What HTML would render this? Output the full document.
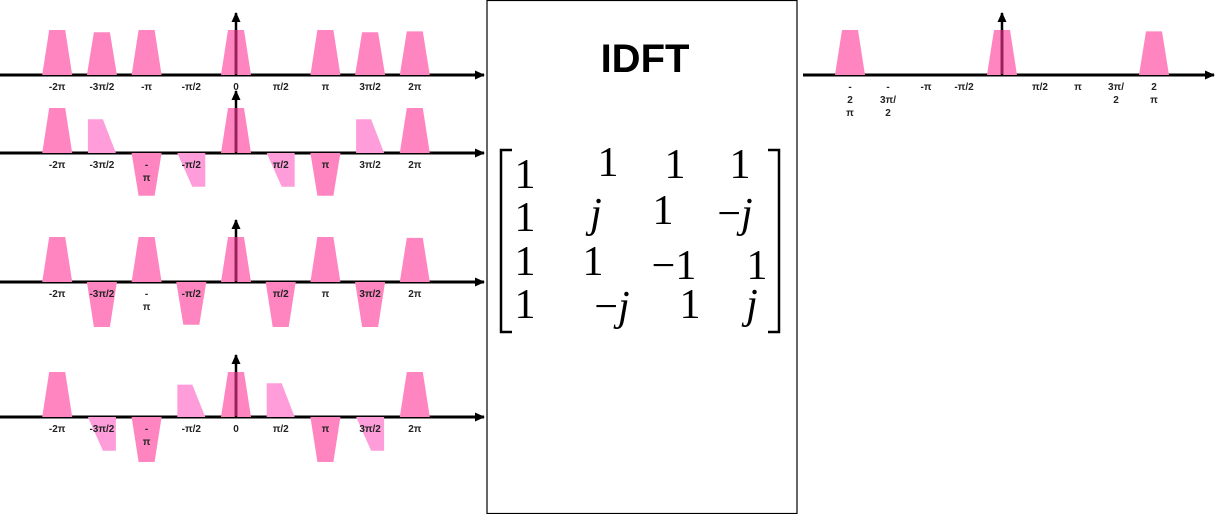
<!DOCTYPE html>
<html><head><meta charset="utf-8"><style>
body{margin:0;background:#fff;width:1224px;height:514px;overflow:hidden;font-family:"Liberation Sans",sans-serif}
svg{position:absolute;left:0;top:0}
</style></head><body>
<svg id="s" width="1224" height="514">
<defs><marker id="ah" markerUnits="userSpaceOnUse" markerWidth="10" markerHeight="10" refX="9" refY="5" orient="auto"><path d="M0,0.5L10,5L0,9.5z" fill="#000"/></marker></defs>
<rect x="487" y="0.5" width="310" height="513" fill="#fff" stroke="#000" stroke-width="1.2"/>
<text x="645" y="72" text-anchor="middle" font-size="40" font-weight="bold" font-family="Liberation Sans, sans-serif">IDFT</text>
<g font-family="Liberation Serif, serif" font-size="42" text-anchor="middle">
<path d="M512,150H501V332H512" fill="none" stroke="#000" stroke-width="2.5"/>
<path d="M768,150H779V332H768" fill="none" stroke="#000" stroke-width="2.5"/>
<text x="525" y="188">1</text><text x="608" y="176">1</text><text x="675" y="178">1</text><text x="740" y="178">1</text>
<text x="525" y="231">1</text><text x="596" y="227" font-style="italic">j</text><text x="663" y="224">1</text><text x="735" y="227">−<tspan font-style="italic">j</tspan></text>
<text x="525" y="275">1</text><text x="593" y="275">1</text><text x="674" y="279">−1</text><text x="757" y="279">1</text>
<text x="525" y="318">1</text><text x="612" y="320">−<tspan font-style="italic">j</tspan></text><text x="690" y="318">1</text><text x="752" y="318" font-style="italic">j</text>
</g>
<g id="plots"></g>
</svg>
<script>
const tickLabels=["-2π","-3π/2","-π","-π/2","0","π/2","π","3π/2","2π"];
const panel1Vals=[1,0.95,1,0,1,0,1,0.95,0.97];
const panel1Light=[0,0,0,0,0,0,0,0,0];
const panel2Vals=[1,0.75,-0.95,-0.75,1,-0.75,-0.95,0.75,1];
const panel2Light=[0,1,0,1,0,1,0,1,0];
const panel3Vals=[1,-1,1,-0.95,1,-1,1,-1,0.98];
const panel3Light=[0,0,0,0,0,0,0,0,0];
const panel4Vals=[1,-0.75,-1,0.72,1,0.75,-1,-0.75,1];
const panel4Light=[0,1,0,1,0,1,0,1,0];
const outVals=[1,0,0,0,1,0,0,0,0.97];
const NS="http://www.w3.org/2000/svg";
const g=document.getElementById('plots');
function mk(t,a){const e=document.createElementNS(NS,t);for(const k in a)e.setAttribute(k,a[k]);return e;}
function panel(name,axisY,x0,x1,xStep,xZero,vals,light,stackLabels,hidden){
  const grp=mk('g',{});
  
  
  g.appendChild(grp);
  const xs=i=>xZero+(i-4)*xStep;
  const ys=v=>axisY-v*45;
  const ax=mk('line',{x1:x0,y1:axisY,x2:x1,y2:axisY,stroke:'#000','stroke-width':3,'marker-end':'url(#ah)'});
  
  
  grp.appendChild(ax);
  vals.forEach((v,i)=>{
    if(!v)return;
    const x=xs(i),y=ys(v);let pts;
    if(light[i]){
      pts=v>0?[[x-14,axisY],[x+14,axisY],[x+1,y],[x-14,y]]:[[x-14,axisY],[x+14,axisY],[x+14,y],[x+1,y]];
    }else pts=[[x-15,axisY],[x+15,axisY],[x+8,y],[x-8,y]];
    const p=mk('polygon',{points:pts.map(q=>q.join(',')).join(' '),fill:light[i]?'#ff9ddb':'#ff85c0'});
    
    
    grp.appendChild(p);
  });
  const va=mk('line',{x1:xZero,y1:axisY,x2:xZero,y2:axisY-62,stroke:'#000','stroke-width':2.5,'marker-end':'url(#ah)'});
  
  
  grp.appendChild(va);
  const vb=mk('line',{x1:xZero,y1:axisY-1,x2:xZero,y2:axisY-45,stroke:'#9b1f5a','stroke-width':2.6});
  
  
  grp.appendChild(vb);
  tickLabels.forEach((t,i)=>{
    if(hidden&&hidden.includes(i))return;
    const x=xs(i);
    let lines=[t];
    if(stackLabels&&stackLabels[i])lines=stackLabels[i];
    lines.forEach((l,k)=>{
      const tx=mk('text',{x:x,y:axisY+15+k*13,'text-anchor':'middle','font-size':10,'font-weight':'bold',fill:'#222'});
      tx.textContent=l;
      
      
      grp.appendChild(tx);
    });
  });
}
panel('spectrum-row-1',75,0,484,44.7,236,panel1Vals,panel1Light,null,[]);
panel('spectrum-row-2',153,0,484,44.7,236,panel2Vals,panel2Light,{2:["-","π"]},[4]);
panel('spectrum-row-3',282,0,484,44.7,236,panel3Vals,panel3Light,{2:["-","π"]},[4]);
panel('spectrum-row-4',417,0,484,44.7,236,panel4Vals,panel4Light,{2:["-","π"]},[]);
panel('output-spectrum',75,803,1214,38,1002,outVals,[0,0,0,0,0,0,0,0,0],{0:["-","2","π"],1:["-","3π/","2"],7:["3π/","2"],8:["2","π"]},[4]);
</script>
</body></html>
